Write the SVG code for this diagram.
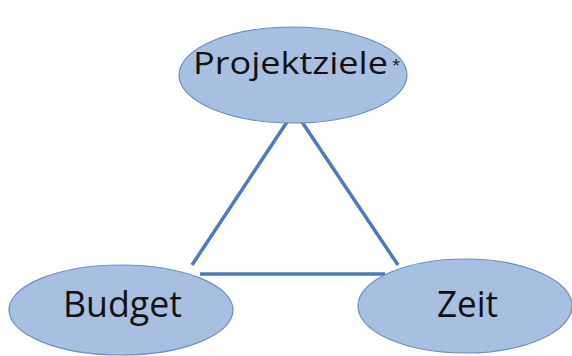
<svg xmlns="http://www.w3.org/2000/svg" width="572" height="356" viewBox="0 0 572 356">
<style>
.node ellipse{fill:#a7c0e2;stroke:#6b8fc2;stroke-width:1.2}
.lbl{font-family:"Open Sans","Liberation Sans",sans-serif;fill:#111}
.edge{stroke:#4c7bbd;stroke-width:3.5;fill:none}
</style>
<rect width="572" height="356" fill="#fff"/>
<g id="connectors">
<line class="edge" x1="287" y1="122" x2="192" y2="265"/>
<line class="edge" x1="302" y1="122" x2="398" y2="265"/>
<line class="edge" x1="200" y1="274" x2="385" y2="274"/>
</g>
<g id="projektziele" class="node">
<ellipse cx="293" cy="75" rx="114" ry="48"/>
<text class="lbl" x="193" y="74" font-size="31" textLength="195" lengthAdjust="spacingAndGlyphs">Projektziele</text>
<text class="lbl" x="392" y="70" font-size="15">*</text>
</g>
<g id="budget" class="node">
<ellipse cx="121" cy="310" rx="112" ry="45"/>
<text class="lbl" x="63" y="317" font-size="36" textLength="119" lengthAdjust="spacingAndGlyphs">Budget</text>
</g>
<g id="zeit" class="node">
<ellipse cx="465" cy="306" rx="107" ry="47"/>
<text class="lbl" x="437" y="317" font-size="36" textLength="61" lengthAdjust="spacingAndGlyphs">Zeit</text>
</g>
</svg>
